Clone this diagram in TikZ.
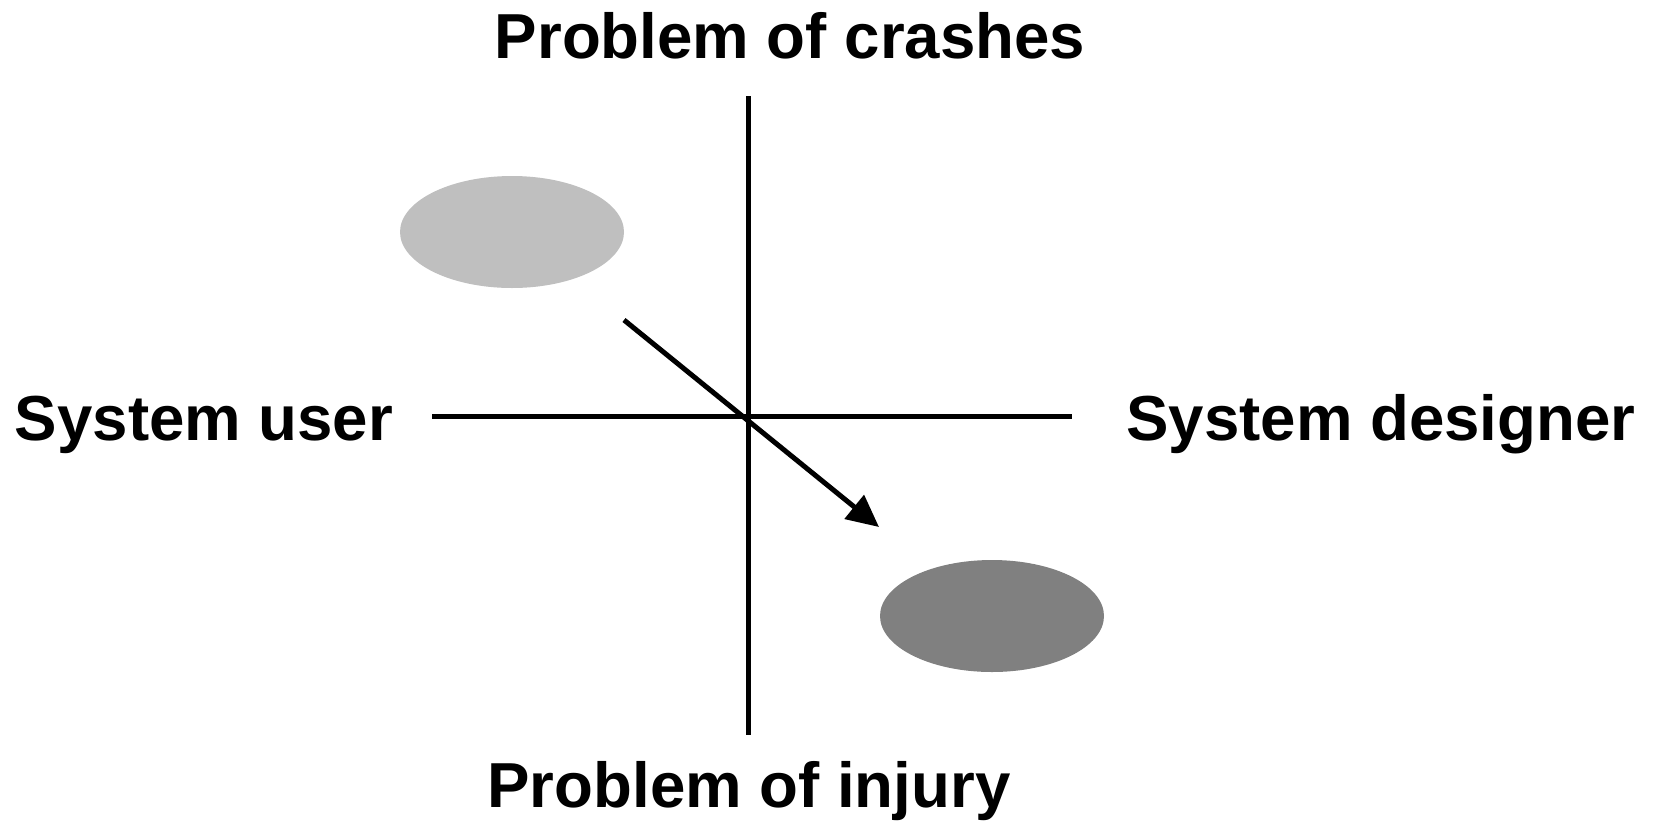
\documentclass[tikz,border=0pt]{standalone}
\usepackage{fontspec}
\setmainfont{Liberation Sans}
\usetikzlibrary{arrows.meta,shapes.geometric}
\definecolor{lightfill}{RGB}{191,191,191}
\definecolor{darkfill}{RGB}{128,128,128}
\begin{document}
\begin{tikzpicture}[x=1pt,y=-1pt,
  lbl/.style={inner sep=0pt,anchor=base,font=\bfseries\fontsize{63.6}{75}\selectfont},
  axis/.style={line width=5pt},
  blob/.style={ellipse,draw=none,minimum width=224pt,minimum height=112pt,inner sep=0pt}]
\useasboundingbox (0,0) rectangle (1656,820);
\node[lbl] (top) at (790,58) {Problem of crashes};
\node[lbl] (bot) at (749,807) {Problem of injury};
\node[lbl] (left) at (204,440) {System user};
\node[lbl] (right) at (1381,440) {System designer};
\coordinate (vt) at (748,96);
\coordinate (vb) at (748,735);
\coordinate (hl) at (432,416);
\coordinate (hr) at (1072,416);
\draw[axis] (vt) -- (vb);
\draw[axis] (hl) -- (hr);
\node[blob,fill=lightfill] (e1) at (512,232) {};
\node[blob,fill=darkfill] (e2) at (992,616) {};
\coordinate (as) at (624,320);
\coordinate (ae) at (879,527);
\draw[axis,-{Triangle[length=32pt,width=30pt]}] (as) -- (ae);
\end{tikzpicture}
\end{document}
